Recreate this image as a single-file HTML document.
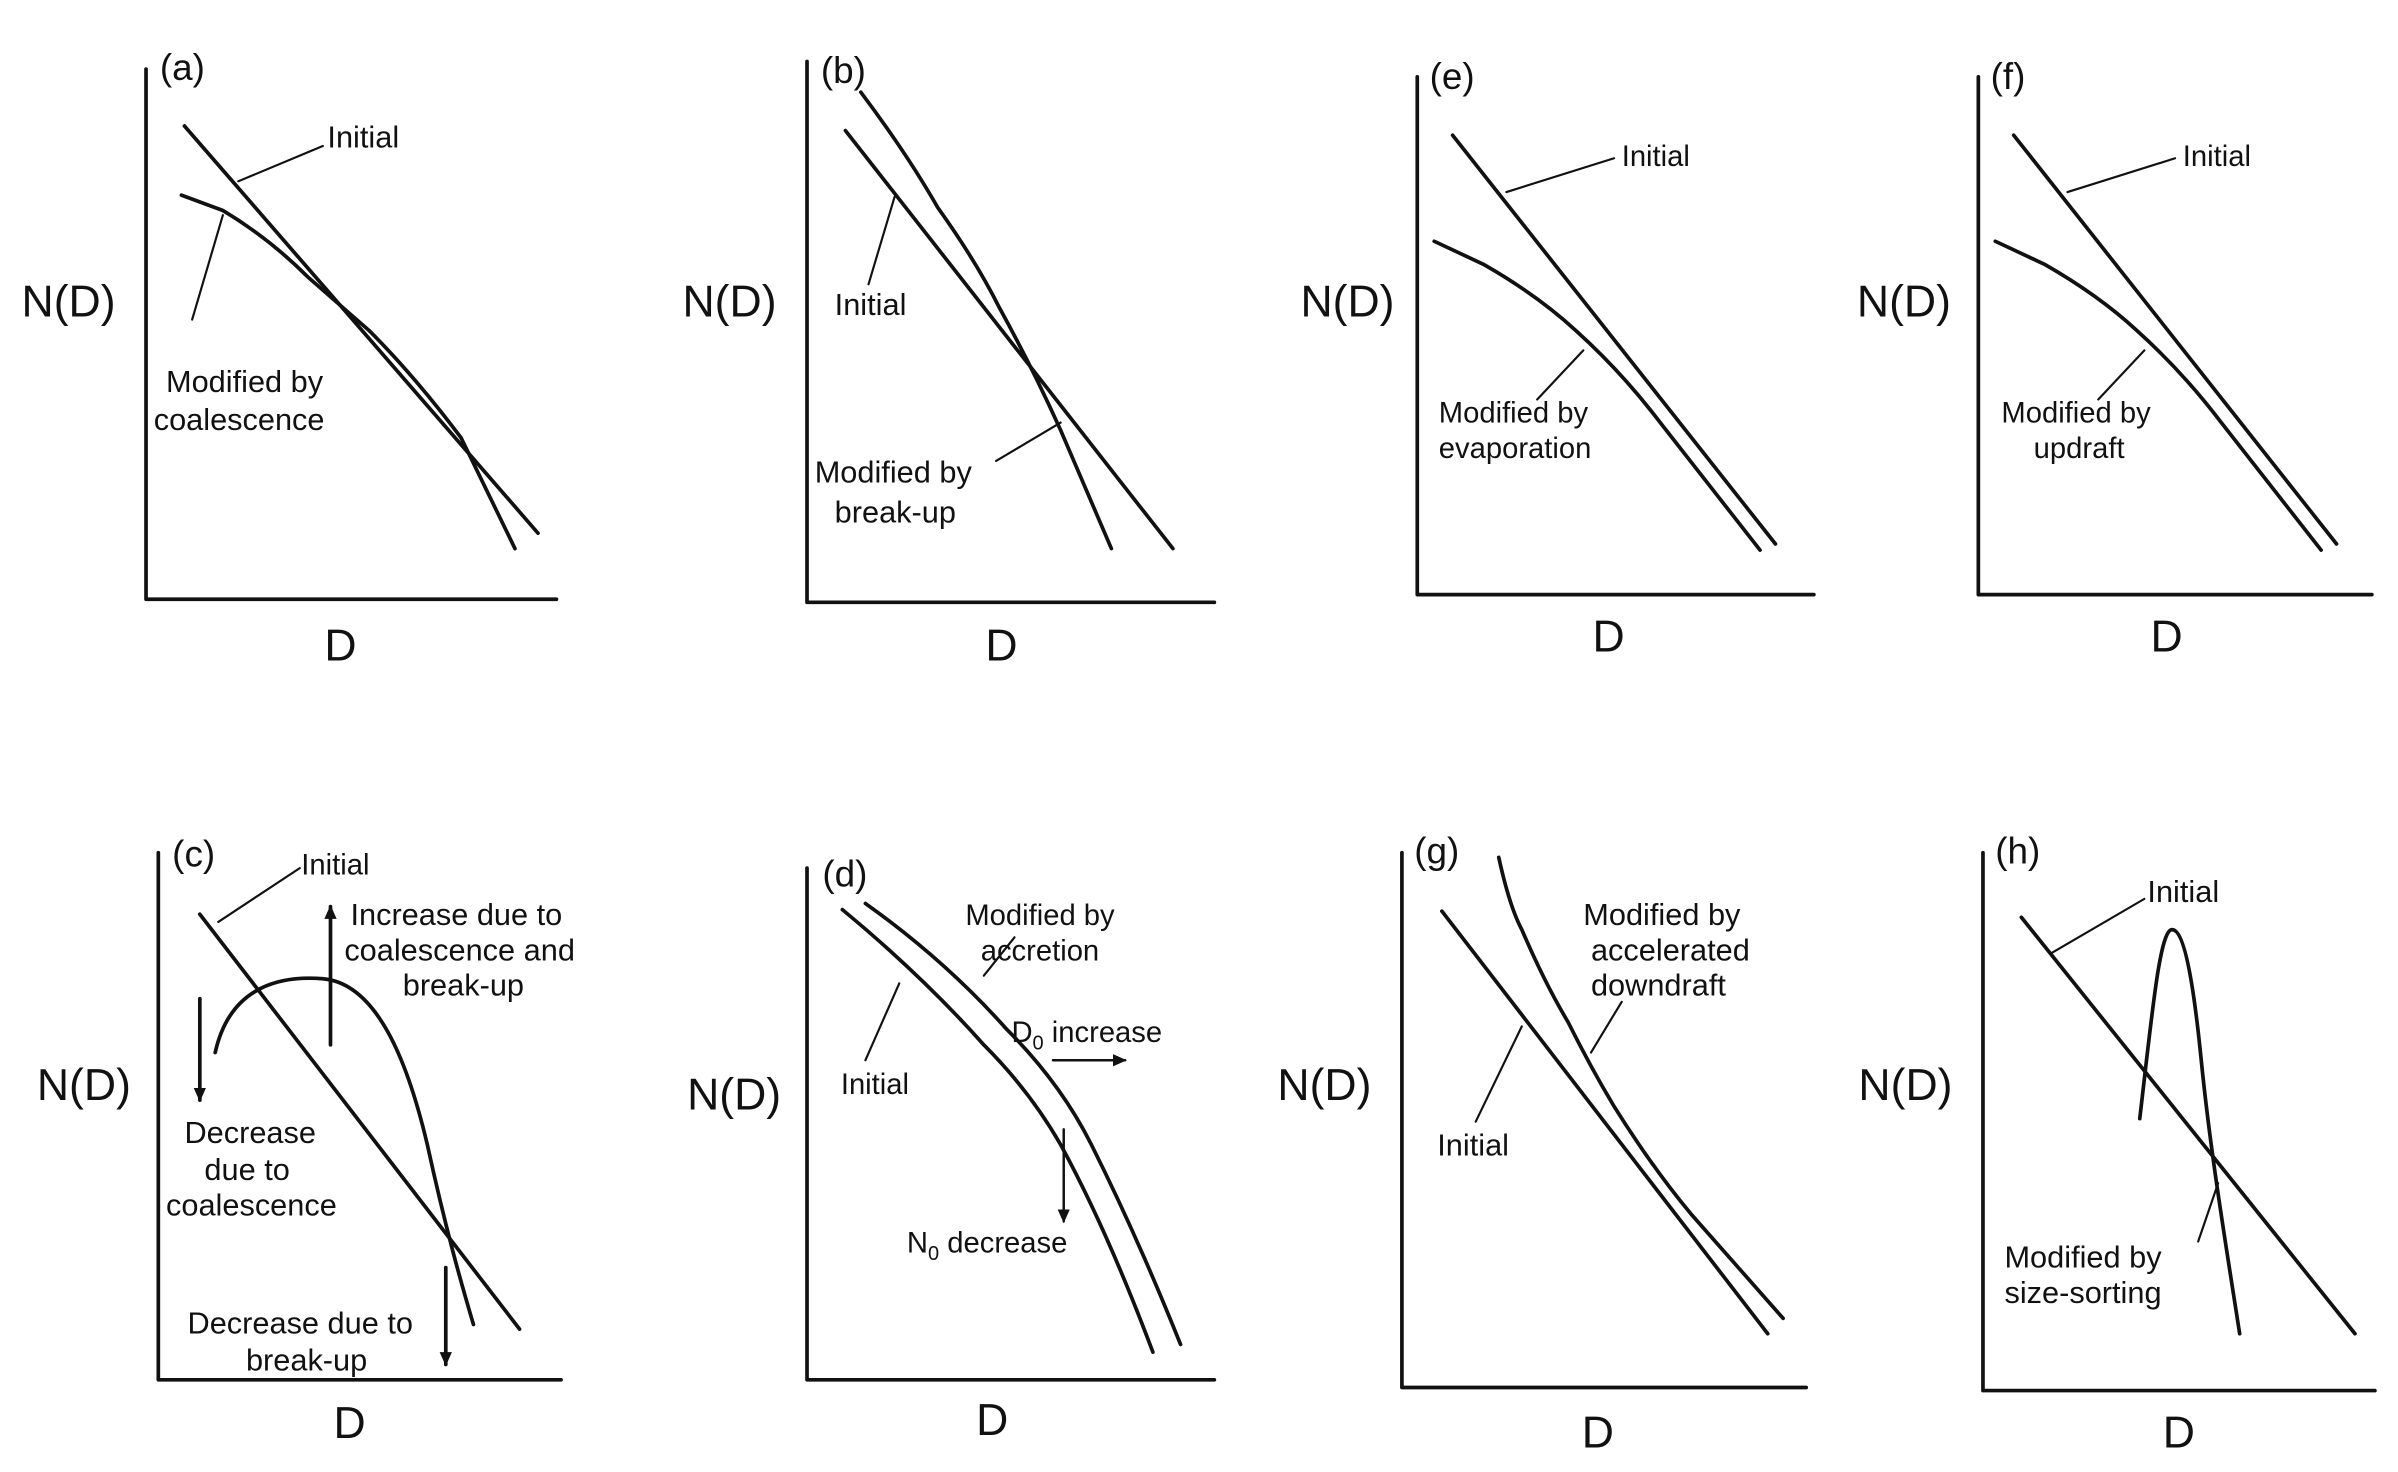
<!DOCTYPE html>
<html><head><meta charset="utf-8"><style>
html,body{margin:0;padding:0;background:#fff;}
svg{display:block;}
text{font-family:"Liberation Sans",Arial,sans-serif;fill:#111;}
.s{font-size:20px;}
.n{font-size:19px;}
.ax{font-size:29px;}
.p{font-size:24px;}
</style></head><body>
<svg width="2398" height="1472" viewBox="0 0 1560 958" preserveAspectRatio="none" xmlns="http://www.w3.org/2000/svg">
<defs><marker id="ar" markerWidth="10" markerHeight="10" refX="8" refY="5" orient="auto" markerUnits="userSpaceOnUse"><path d="M0,1 L9,5 L0,9 z" fill="#111"/></marker></defs>
<g fill="none" stroke="#111" stroke-width="2.4" stroke-linejoin="round" stroke-linecap="round">
<!-- a -->
<path d="M95,45 V390 H362"/>
<path d="M120,82 L350,347"/>
<path d="M118,127 L145,137 Q175,155 200,180 L240,215 Q270,245 300,285 L335,357"/>
<path d="M155,118 L210,95" stroke-width="1.4"/>
<path d="M145,140 L125,208" stroke-width="1.4"/>
<!-- b -->
<path d="M525,40 V392 H790"/>
<path d="M550,85 L763,357"/>
<path d="M560,60 Q590,100 610,135 Q635,170 650,200 Q672,240 690,280 L723,357"/>
<path d="M582,128 L565,185" stroke-width="1.4"/>
<path d="M690,275 L648,300" stroke-width="1.4"/>
<!-- e -->
<path d="M922,50 V387 H1180"/>
<path d="M945,88 L1155,354"/>
<path d="M933,157 L965,172 Q1000,192 1025,215 Q1055,242 1080,275 L1145,358"/>
<path d="M980,125 L1050,103" stroke-width="1.4"/>
<path d="M1030,228 L1000,260" stroke-width="1.4"/>
<!-- f -->
<path d="M1287,50 V387 H1543"/>
<path d="M1310,88 L1520,354"/>
<path d="M1298,157 L1330,172 Q1365,192 1390,215 Q1420,242 1445,275 L1510,358"/>
<path d="M1345,125 L1415,103" stroke-width="1.4"/>
<path d="M1395,228 L1365,260" stroke-width="1.4"/>
<!-- c -->
<path d="M103,555 V898 H365"/>
<path d="M130,595 L338,865"/>
<path d="M140,685 C150,640 185,635 210,637 C245,640 265,690 278,745 C290,800 300,835 308,862"/>
<path d="M142,600 L195,565" stroke-width="1.4"/>
<path d="M215,680 V590" marker-end="url(#ar)"/>
<path d="M130,650 V716" marker-end="url(#ar)"/>
<path d="M290,825 V888" marker-end="url(#ar)"/>
<!-- d -->
<path d="M525,565 V898 H790"/>
<path d="M548,592 Q600,635 640,680 Q670,710 690,745 Q720,800 750,880"/>
<path d="M563,588 Q615,625 655,670 Q690,705 710,745 Q740,805 768,875"/>
<path d="M585,640 L563,690" stroke-width="1.4"/>
<path d="M640,635 L660,610" stroke-width="1.4"/>
<path d="M685,690 H732" stroke-width="1.6" marker-end="url(#ar)"/>
<path d="M692,735 V795" stroke-width="1.6" marker-end="url(#ar)"/>
<!-- g -->
<path d="M912,555 V903 H1175"/>
<path d="M938,593 L1150,868"/>
<path d="M975,558 Q982,590 990,605 Q1005,640 1020,665 Q1035,695 1050,720 Q1075,760 1100,790 L1160,858"/>
<path d="M990,668 L960,730" stroke-width="1.4"/>
<path d="M1035,685 L1055,652" stroke-width="1.4"/>
<!-- h -->
<path d="M1290,555 V905 H1545"/>
<path d="M1315,597 L1532,868"/>
<path d="M1392,728 C1400,660 1405,605 1413,605 C1422,605 1428,650 1432,690 C1438,750 1448,810 1457,868"/>
<path d="M1335,620 L1395,585" stroke-width="1.4"/>
<path d="M1443,770 L1430,808" stroke-width="1.4"/>
</g>
<!-- texts -->
<text class="p" x="104" y="52">(a)</text>
<text class="ax" x="14" y="206">N(D)</text>
<text class="ax" x="211" y="430">D</text>
<text class="s" x="213" y="96">Initial</text>
<text class="s" x="108" y="255">Modified by</text>
<text class="s" x="100" y="280">coalescence</text>

<text class="p" x="534" y="54">(b)</text>
<text class="ax" x="444" y="206">N(D)</text>
<text class="ax" x="641" y="430">D</text>
<text class="s" x="543" y="205">Initial</text>
<text class="s" x="530" y="314">Modified by</text>
<text class="s" x="543" y="340">break-up</text>

<text class="p" x="930" y="58">(e)</text>
<text class="ax" x="846" y="206">N(D)</text>
<text class="ax" x="1036" y="424">D</text>
<text class="n" x="1055" y="108">Initial</text>
<text class="n" x="936" y="275">Modified by</text>
<text class="n" x="936" y="298">evaporation</text>

<text class="p" x="1295" y="58">(f)</text>
<text class="ax" x="1208" y="206">N(D)</text>
<text class="ax" x="1399" y="424">D</text>
<text class="n" x="1420" y="108">Initial</text>
<text class="n" x="1302" y="275">Modified by</text>
<text class="n" x="1323" y="298">updraft</text>

<text class="p" x="112" y="564">(c)</text>
<text class="ax" x="24" y="716">N(D)</text>
<text class="ax" x="217" y="936">D</text>
<text class="n" x="196" y="569">Initial</text>
<text class="s" x="228" y="602">Increase due to</text>
<text class="s" x="224" y="625">coalescence and</text>
<text class="s" x="262" y="648">break-up</text>
<text class="s" x="120" y="744">Decrease</text>
<text class="s" x="133" y="768">due to</text>
<text class="s" x="108" y="791">coalescence</text>
<text class="s" x="122" y="868">Decrease due to</text>
<text class="s" x="160" y="892">break-up</text>

<text class="p" x="535" y="577">(d)</text>
<text class="ax" x="447" y="722">N(D)</text>
<text class="ax" x="635" y="934">D</text>
<text class="n" x="547" y="712">Initial</text>
<text class="n" x="628" y="602">Modified by</text>
<text class="n" x="638" y="625">accretion</text>
<text class="n" x="658" y="678">D<tspan font-size="13" dy="5">0</tspan><tspan dy="-5"> increase</tspan></text>
<text class="n" x="590" y="815">N<tspan font-size="13" dy="5">0</tspan><tspan dy="-5"> decrease</tspan></text>

<text class="p" x="920" y="562">(g)</text>
<text class="ax" x="831" y="716">N(D)</text>
<text class="ax" x="1029" y="942">D</text>
<text class="s" x="935" y="752">Initial</text>
<text class="s" x="1030" y="602">Modified by</text>
<text class="s" x="1035" y="625">accelerated</text>
<text class="s" x="1035" y="648">downdraft</text>

<text class="p" x="1298" y="562">(h)</text>
<text class="ax" x="1209" y="716">N(D)</text>
<text class="ax" x="1407" y="942">D</text>
<text class="s" x="1397" y="587">Initial</text>
<text class="s" x="1304" y="825">Modified by</text>
<text class="s" x="1304" y="848">size-sorting</text>
</svg>
</body></html>
